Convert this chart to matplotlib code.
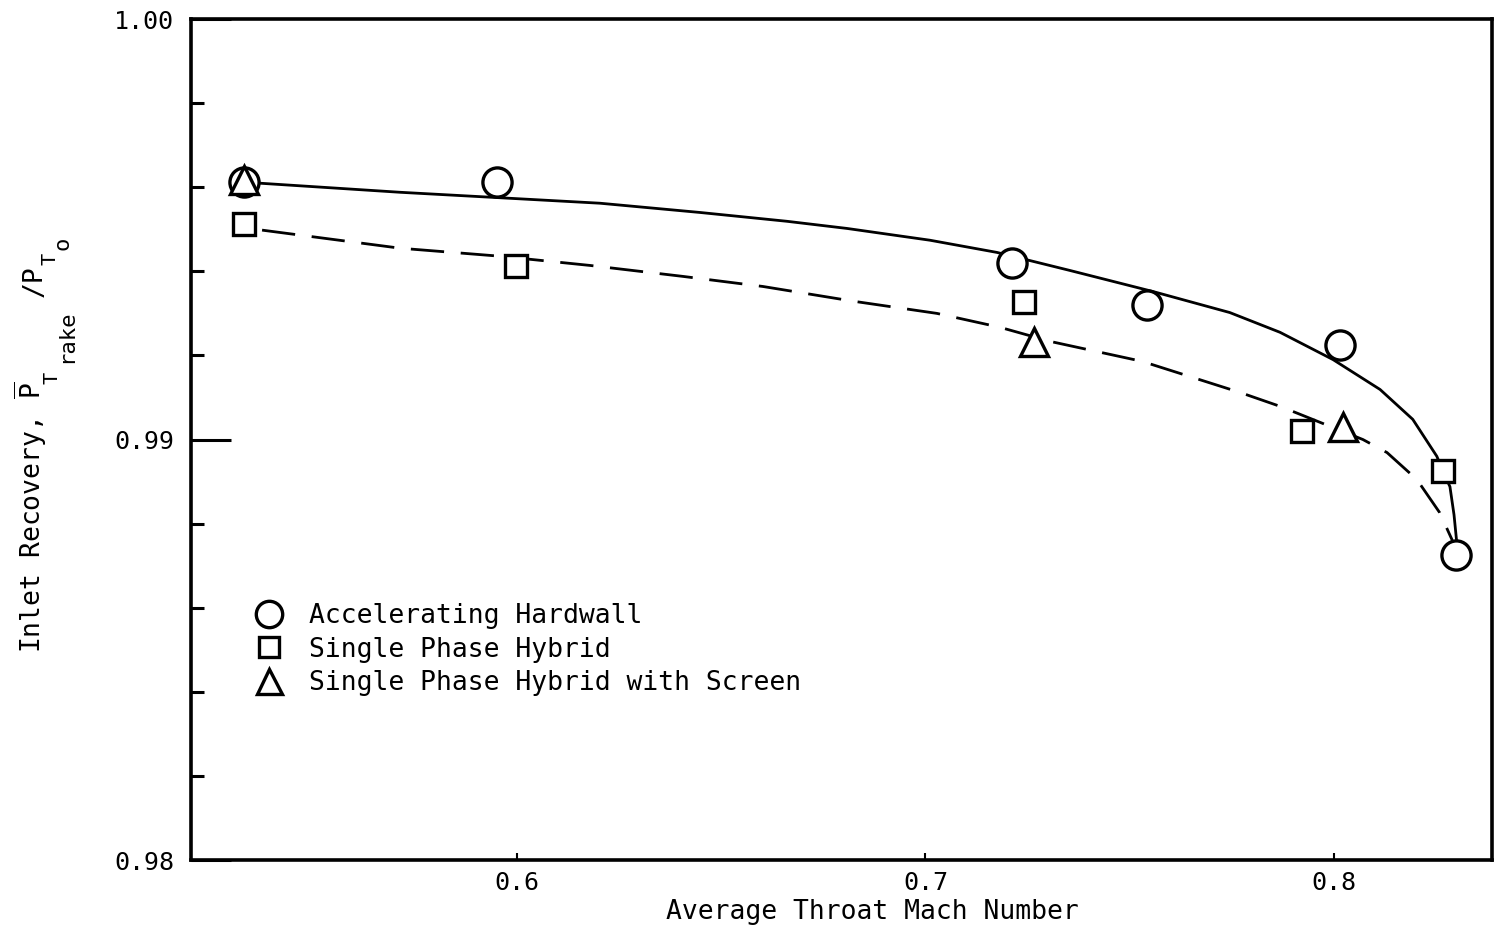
import matplotlib
matplotlib.use("Agg")
import matplotlib.pyplot as plt
from matplotlib.lines import Line2D
from matplotlib.ticker import MultipleLocator

plt.rcParams["font.family"] = "DejaVu Sans Mono"
plt.rcParams["mathtext.fontset"] = "custom"
plt.rcParams["mathtext.rm"] = "DejaVu Sans Mono"
plt.rcParams["mathtext.it"] = "DejaVu Sans Mono"

W, H = 1498, 933

# measured points
hard_x = [0.5332, 0.5951, 0.7212, 0.7542, 0.8015, 0.8299]
hard_y = [0.99612, 0.99612, 0.99421, 0.99321, 0.99226, 0.98726]

hyb_x = [0.5332, 0.5998, 0.7241, 0.7922, 0.8267]
hyb_y = [0.99512, 0.99412, 0.99326, 0.99021, 0.98924]

scr_x = [0.5332, 0.7266, 0.8022]
scr_y = [0.99617, 0.99231, 0.99029]

# faired curves
solid_x = [0.5332, 0.5714, 0.6203, 0.6448, 0.6661, 0.6808, 0.7011, 0.7175, 0.7354,
           0.7557, 0.7745, 0.7868, 0.7998, 0.8113, 0.8193, 0.8252, 0.8267, 0.8284,
           0.8294, 0.8300]
solid_y = [0.99612, 0.99588, 0.99562, 0.99540, 0.99519, 0.99502, 0.99474, 0.99445, 0.99402,
           0.99352, 0.99302, 0.99255, 0.99190, 0.99119, 0.99048, 0.98960, 0.98924, 0.98888,
           0.98821, 0.98762]

dash_x = [0.5376, 0.5714, 0.5958, 0.6179, 0.6406, 0.6602, 0.6823, 0.7028, 0.7182, 0.7307,
          0.7530, 0.7770, 0.7868, 0.7917, 0.8071, 0.8130, 0.8203, 0.8259, 0.8289, 0.8299]
dash_y = [0.99498, 0.99455, 0.99436, 0.99414, 0.99388, 0.99364, 0.99329, 0.99300, 0.99267, 0.99233,
          0.99186, 0.99112, 0.99079, 0.99060, 0.99000, 0.98969, 0.98905, 0.98826, 0.98762, 0.98726]

labels = ["Accelerating Hardwall", "Single Phase Hybrid",
          "Single Phase Hybrid with Screen"]

fig = plt.figure(figsize=(W / 100, H / 100), dpi=100)
ax = fig.add_axes([0.1275, 0.0782, 0.8685, 0.9014])

ax.plot(solid_x, solid_y, color="black", lw=2.0, zorder=2)
ax.plot(dash_x, dash_y, color="black", lw=2.0, dashes=(12, 6), zorder=2)

mk = dict(linestyle="none", markerfacecolor="white", markeredgecolor="black",
          markeredgewidth=2.4, zorder=3)
ax.plot(hard_x, hard_y, marker="o", markersize=21, **mk)
ax.plot(hyb_x, hyb_y, marker="s", markersize=16, **mk)
ax.plot(scr_x, scr_y, marker="^", markersize=20, **mk)

ax.set_xlim(0.5202, 0.8387)
ax.set_ylim(0.98, 1.0)

ax.set_xticks([0.6, 0.7, 0.8])
ax.set_xticklabels(["0.6", "0.7", "0.8"])
ax.set_yticks([0.98, 0.99, 1.00])
ax.set_yticklabels(["0.98", "0.99", "1.00"])
ax.yaxis.set_minor_locator(MultipleLocator(0.002))
ax.tick_params(axis="y", which="major", direction="in", length=29, width=2.2,
               labelsize=18, pad=12)
ax.tick_params(axis="y", which="minor", direction="in", length=9, width=2.2)
ax.tick_params(axis="x", which="major", direction="in", length=5, width=1.5,
               labelsize=18, pad=8)

for s in ax.spines.values():
    s.set_linewidth(2.6)

ax.set_xlabel("Average Throat Mach Number", fontsize=19)
ax.xaxis.set_label_coords(0.524, -0.046)

# y label built in pieces so the sub-levels sit like the typed original
def ypiece(px, py, s, fs):
    fig.text(px / W, (H - py) / H, s, fontsize=fs, rotation=90,
             rotation_mode="anchor", ha="left", va="baseline")

ypiece(41, 653, r"Inlet Recovery, $\overline{\mathrm{P}}$", 19)
ypiece(57, 384, "T", 14.5)
ypiece(72, 363, "rake", 16)
ypiece(42, 297, "/P", 19)
ypiece(56, 265, "T", 14.5)
ypiece(68, 250, "o", 16)

handles = [
    Line2D([], [], marker="o", markersize=19, **mk),
    Line2D([], [], marker="s", markersize=15, **mk),
    Line2D([], [], marker="^", markersize=18, **mk),
]
ax.legend(handles, labels, loc="upper left", bbox_to_anchor=(0.042, 0.318),
          frameon=False, fontsize=19, handlelength=1.0, handletextpad=1.0,
          labelspacing=0.28, borderaxespad=0)

fig.savefig("out.png", dpi=100, facecolor="white")
